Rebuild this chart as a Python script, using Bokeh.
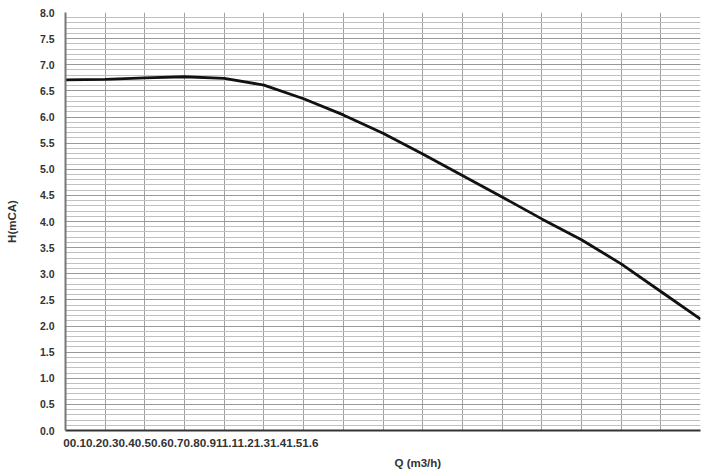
from bokeh.plotting import figure
from bokeh.models import FixedTicker, SingleIntervalTicker, Range1d, PrintfTickFormatter, Title
from bokeh.embed import file_html
from bokeh.resources import INLINE

q_values = [0, 0.1, 0.2, 0.3, 0.4, 0.5, 0.6, 0.7, 0.8, 0.9, 1.0, 1.1, 1.2, 1.3, 1.4, 1.5, 1.6]
h_values = [6.71, 6.72, 6.75, 6.77, 6.74, 6.61, 6.35, 6.04, 5.69, 5.29, 4.88, 4.47, 4.05, 3.65, 3.19, 2.66, 2.13]
x_tick_labels = ["0", "0.1", "0.2", "0.3", "0.4", "0.5", "0.6", "0.7", "0.8", "0.9",
                 "1", "1.1", "1.2", "1.3", "1.4", "1.5", "1.6"]
y_label = "H(mCA)"
x_label = "Q (m3/h)"

FONT = "Liberation Sans"
TXT = "#333333"

p = figure(width=701, height=473, output_backend="svg", toolbar_location=None,
           x_range=Range1d(0, 1.6), y_range=Range1d(0, 8),
           min_border_left=65, min_border_right=1, min_border_top=12, min_border_bottom=0)
p.outline_line_color = None
p.background_fill_color = "white"

# grids
p.xgrid.ticker = FixedTicker(ticks=q_values)
p.xgrid.grid_line_color = "#a0a0a0"
p.xgrid.grid_line_width = 1
p.ygrid.ticker = SingleIntervalTicker(interval=0.5, num_minor_ticks=5)
p.ygrid.grid_line_color = "#999999"
p.ygrid.minor_grid_line_color = "#c0c0c0"
p.ygrid.grid_line_width = 1

# x axis: one tick at 0 whose label is the run-together list of tick labels
p.xaxis.ticker = FixedTicker(ticks=[0])
p.xaxis.major_label_overrides = {0: "".join(x_tick_labels)}
p.xaxis.major_label_text_align = "left"
p.xaxis.major_label_standoff = 8
p.xaxis.major_tick_out = 0
p.xaxis.major_tick_in = 0
p.xaxis.axis_line_color = "#333333"
p.xaxis.axis_line_width = 2
p.xaxis.major_tick_line_color = None
p.xaxis.minor_tick_line_color = None
p.xaxis.major_label_text_font = FONT
p.xaxis.major_label_text_font_style = "bold"
p.xaxis.major_label_text_font_size = "11.7px"
p.xaxis.major_label_text_color = TXT

# y axis
p.yaxis.ticker = SingleIntervalTicker(interval=0.5, num_minor_ticks=0)
p.yaxis.formatter = PrintfTickFormatter(format="%.1f")
p.yaxis.axis_line_color = "#777777"
p.yaxis.axis_line_width = 2
p.yaxis.major_tick_line_color = None
p.yaxis.minor_tick_line_color = None
p.yaxis.major_tick_out = 0
p.yaxis.major_tick_in = 0
p.yaxis.major_label_standoff = 11
p.yaxis.major_label_text_font = FONT
p.yaxis.major_label_text_font_style = "bold"
p.yaxis.major_label_text_font_size = "10.5px"
p.yaxis.major_label_text_color = TXT
p.yaxis.axis_label = y_label
p.yaxis.axis_label_text_font = FONT
p.yaxis.axis_label_text_font_style = "bold"
p.yaxis.axis_label_text_font_size = "11.5px"
p.yaxis.axis_label_text_color = TXT
p.yaxis.axis_label_standoff = 19

# the curve
p.line(q_values, h_values, line_color="#111111", line_width=2.8)

# x axis title (sits right of centre in the original)
p.add_layout(Title(text=x_label, align="left", offset=329, standoff=10,
                   text_font=FONT, text_font_style="bold", text_font_size="11.5px",
                   text_color=TXT), "below")

open("out.html", "w").write(file_html(p, INLINE))
